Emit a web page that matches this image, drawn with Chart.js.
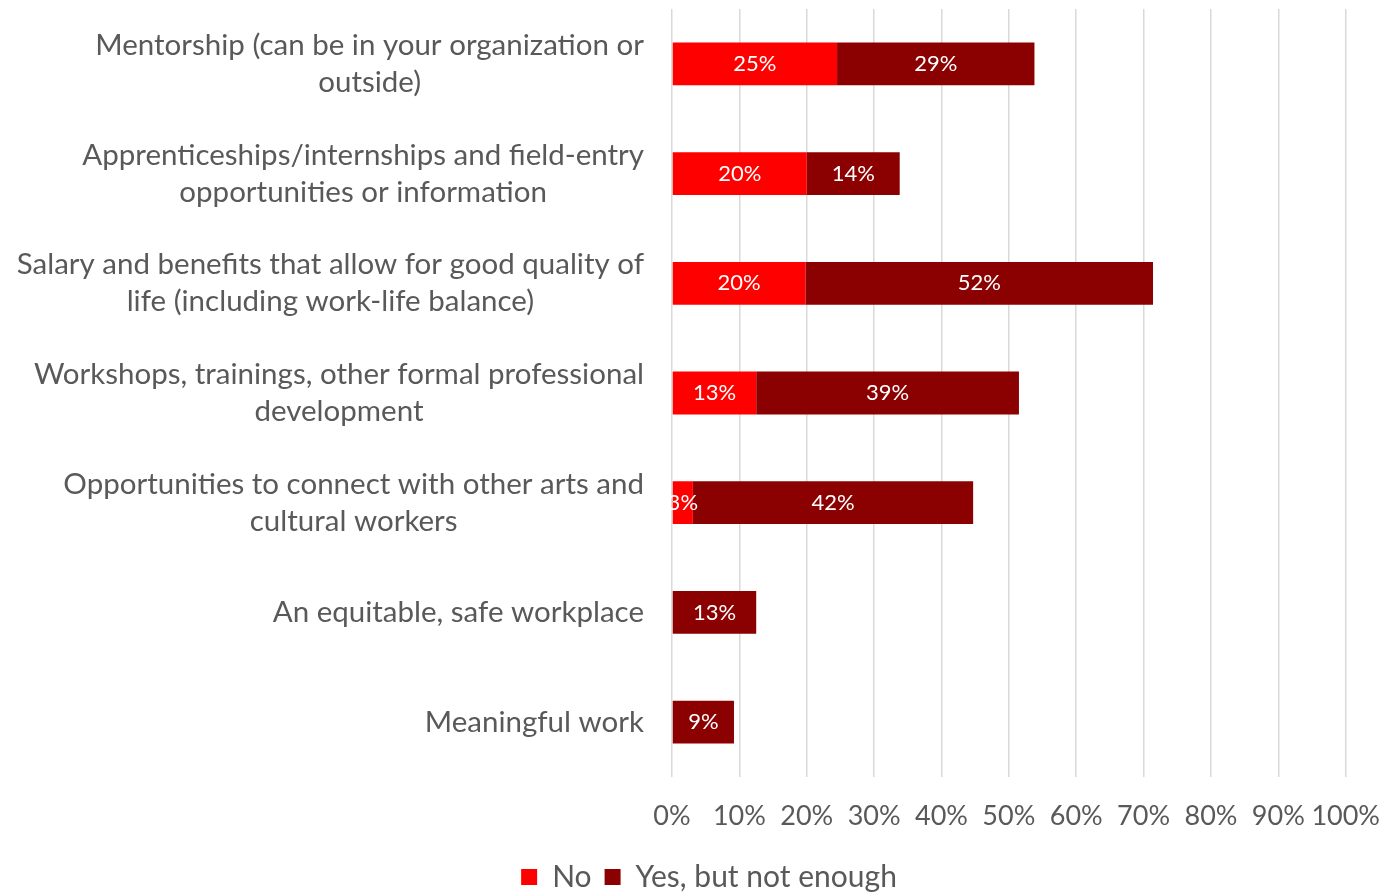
<!DOCTYPE html>
<html>
<head>
<meta charset="utf-8">
<script src="https://cdn.jsdelivr.net/npm/chart.js@4/dist/chart.umd.min.js"></script>
<style>
html,body{margin:0;padding:0;background:#fff;}
#wrap{width:1384px;height:895px;position:relative;}
</style>
</head>
<body>
<div id="wrap"><canvas id="c"></canvas></div>
<script>
const categories = [
  ["Mentorship (can be in your organization or", "outside)"],
  ["Apprenticeships/internships and field-entry", "opportunities or information"],
  ["Salary and benefits that allow for good quality of", "life (including work-life balance)"],
  ["Workshops, trainings, other formal professional", "development"],
  ["Opportunities to connect with other arts and", "cultural workers"],
  ["An equitable, safe workplace"],
  ["Meaningful work"]
];
const seriesNames = ["No", "Yes, but not enough"];
const noValues = [24.5, 20.0, 19.8, 12.5, 3.1, 0, 0];
const yesValues = [29.3, 13.8, 51.6, 39.0, 41.6, 12.5, 9.2];
const xTicks = [0, 10, 20, 30, 40, 50, 60, 70, 80, 90, 100];

const FONT = "Lato, 'Open Sans', sans-serif";
const GREY = "#595959";

const yLabelPlugin = {
  id: 'yLabels',
  afterDraw(chart) {
    const ctx = chart.ctx;
    const y = chart.scales.y;
    const right = chart.chartArea.left - 28;
    const lh = 37;
    ctx.save();
    ctx.font = "29.5px " + FONT;
    ctx.fillStyle = GREY;
    ctx.textBaseline = 'middle';
    ctx.textAlign = 'center';
    categories.forEach((lines, i) => {
      const cy = y.getPixelForValue(i);
      const w = Math.max(...lines.map(l => ctx.measureText(l).width));
      const cx = right - w / 2;
      const start = cy - (lines.length - 1) * lh / 2;
      lines.forEach((l, k) => ctx.fillText(l, cx, start + k * lh));
    });
    ctx.restore();
  }
};

const valueLabelPlugin = {
  id: 'valueLabels',
  afterDatasetsDraw(chart) {
    const ctx = chart.ctx;
    ctx.save();
    ctx.font = "22px " + FONT;
    ctx.fillStyle = "#ffffff";
    ctx.textAlign = 'center';
    ctx.textBaseline = 'middle';
    chart.data.datasets.forEach((ds, di) => {
      const meta = chart.getDatasetMeta(di);
      meta.data.forEach((bar, i) => {
        const v = ds.data[i];
        if (!v) return;
        const p = bar.getProps(['x', 'y', 'base'], true);
        ctx.fillText(Math.round(v) + '%', (p.x + p.base) / 2, p.y);
      });
    });
    ctx.restore();
  }
};

new Chart(document.getElementById('c'), {
  type: 'bar',
  data: {
    labels: categories,
    datasets: [
      { label: seriesNames[0], data: noValues, backgroundColor: '#ff0000', borderWidth: 0 },
      { label: seriesNames[1], data: yesValues, backgroundColor: '#8b0000', borderWidth: 0 }
    ]
  },
  options: {
    indexAxis: 'y',
    responsive: true,
    maintainAspectRatio: false,
    animation: false,
    layout: { padding: { left: 42, right: 8, top: 9, bottom: -7 } },
    datasets: { bar: { categoryPercentage: 1, barPercentage: 0.39 } },
    scales: {
      x: {
        stacked: true,
        min: 0, max: 100,
        afterBuildTicks(scale) { scale.ticks = xTicks.map(v => ({ value: v })); },
        afterFit(scale) { scale.height = 72; },
        grid: { color: '#d9d9d9', lineWidth: 1.5, drawTicks: true, tickLength: 19, tickColor: 'rgba(0,0,0,0)' },
        border: { display: false },
        ticks: {
          color: GREY,
          font: { family: FONT, size: 27 },
          padding: 4,
          maxRotation: 0, minRotation: 0, autoSkip: false,
          callback: v => v + '%'
        }
      },
      y: {
        stacked: true,
        grid: { display: false },
        border: { display: false },
        ticks: { display: false },
        afterFit(scale) { scale.width = 630; }
      }
    },
    plugins: {
      legend: {
        position: 'bottom',
        labels: {
          color: GREY,
          font: { family: FONT, size: 30 },
          boxWidth: 16, boxHeight: 16,
          padding: 13
        }
      },
      tooltip: { enabled: false }
    }
  },
  plugins: [yLabelPlugin, valueLabelPlugin]
});
</script>
</body>
</html>
